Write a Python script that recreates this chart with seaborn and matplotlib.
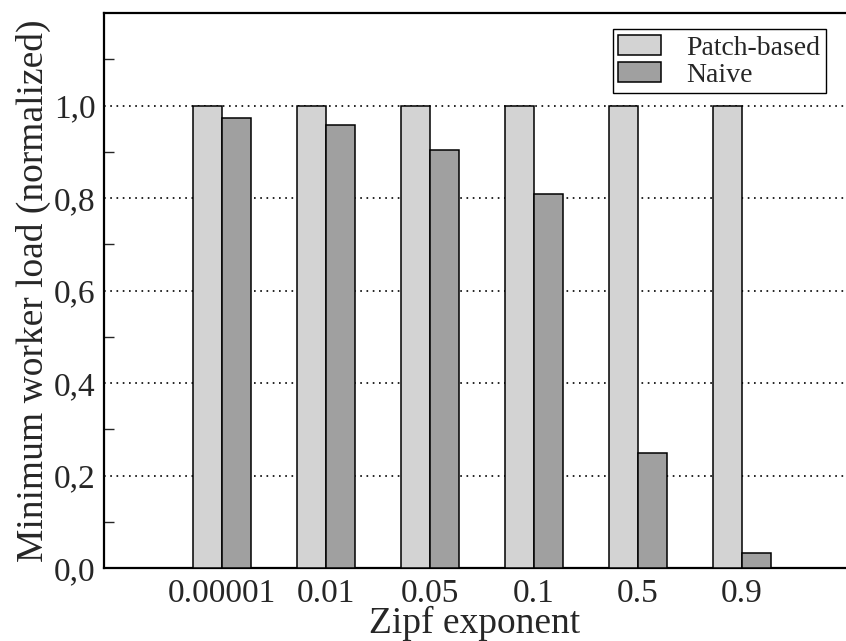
import pandas as pd
import seaborn as sns
import matplotlib.pyplot as plt
from matplotlib.ticker import MultipleLocator, FuncFormatter

zipf = ["0.00001", "0.01", "0.05", "0.1", "0.5", "0.9"]
patch_based = [1.0, 1.0, 1.0, 1.0, 1.0, 1.0]
naive = [0.974, 0.957, 0.904, 0.808, 0.249, 0.034]
methods = ["Patch-based", "Naive"]

df = pd.DataFrame({
    "Zipf exponent": zipf * 2,
    "load": patch_based + naive,
    "method": [methods[0]] * len(zipf) + [methods[1]] * len(zipf),
})

sns.set_style("white")
plt.rcParams["font.family"] = ["Liberation Serif", "DejaVu Serif"]

fig = plt.figure(figsize=(8.46, 6.41), dpi=100)
ax = fig.add_axes([0.123, 0.1134, 0.877, 0.8663])

pal = ["#d3d3d3", "#a0a0a0"]
sns.barplot(data=df, x="Zipf exponent", y="load", hue="method", palette=pal,
            width=0.56, edgecolor="black", linewidth=1.1, saturation=1,
            ax=ax, zorder=3)

ax.set_xlim(-1.135, 6.0)
ax.set_ylim(0, 1.2)
ax.yaxis.set_major_locator(MultipleLocator(0.2))
ax.yaxis.set_minor_locator(MultipleLocator(0.1))
ax.yaxis.set_major_formatter(FuncFormatter(lambda v, p: f"{v:.1f}".replace(".", ",") if v <= 1.01 else ""))
ax.grid(axis="y", which="major", color="black", linestyle=(0, (1, 2.75)), linewidth=1.2, zorder=0)
ax.set_axisbelow(True)

ax.tick_params(axis="y", which="both", direction="in", left=True, labelsize=24, pad=6)
ax.tick_params(axis="y", which="major", length=0)
ax.tick_params(axis="y", which="minor", length=7, width=1)
ax.tick_params(axis="x", length=0, labelsize=24, pad=7)

for s in ["left", "top", "bottom"]:
    ax.spines[s].set_linewidth(1.6)
    ax.spines[s].set_color("black")
ax.spines["right"].set_visible(False)

ax.set_xlabel("Zipf exponent", fontsize=27, labelpad=-2)
ax.set_ylabel("Minimum worker load (normalized)", fontsize=27, labelpad=2)

leg = ax.legend(loc="upper right", bbox_to_anchor=(0.973, 0.971), borderaxespad=0,
                fontsize=20, frameon=True, fancybox=False, edgecolor="black",
                framealpha=1, handlelength=1.55, handleheight=0.75, handletextpad=0.9,
                borderpad=0.2, labelspacing=0.05)
leg.get_frame().set_linewidth(1.0)

fig.savefig("out.png", dpi=100)
